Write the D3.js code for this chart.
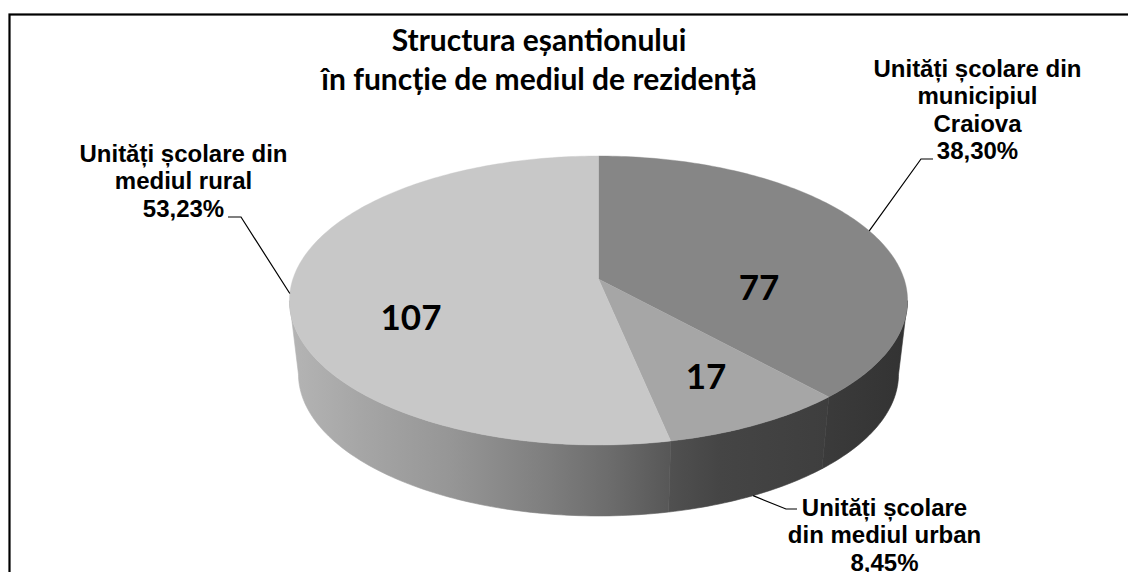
<!DOCTYPE html>
<html><head><meta charset="utf-8">
<style>html,body{margin:0;padding:0;background:#fff;overflow:hidden}svg{display:block}</style>
<script src="https://cdn.jsdelivr.net/npm/d3@7"></script></head><body>
<svg id="c" width="1128" height="572"></svg>
<script>
const categories = ["Craiova","Urban","Rural"];
const counts = [77,17,107];
const countLabels = ["77","17","107"];
const percentLabels = ["38,30%","8,45%","53,23%"];
const titleLines = ["Structura eșantionului","în funcție de mediul de rezidență"];
const labelLines = [
  ["Unități școlare din","municipiul","Craiova","38,30%"],
  ["Unități școlare","din mediul urban","8,45%"],
  ["Unități școlare din","mediul rural","53,23%"]
];
const topColors = ["#868686","#a6a6a6","#c8c8c8"];

const svg = d3.select("#c");
const W=1128,H=572;
svg.append("rect").attr("width",W).attr("height",H).attr("fill","#fff");
svg.append("rect").attr("x",9.5).attr("y",14.5).attr("width",1200).attr("height",620)
  .attr("fill","#fff").attr("stroke","#000").attr("stroke-width",2.2);

// perspective discs: k = foreshortening, a/b = vertical/horizontal radius at apex
const topDisc = {x0:598.5,y0:279,a:141.3,b:305.6,k:0.1488};
const botDisc = {x0:598.5,y0:352.9,a:138.8,b:296.7,k:0.1488};
const project=(d,t)=>{const u=Math.sin(t),v=-Math.cos(t),w=1-d.k*v;return [d.x0+d.b*u/w,d.y0+d.a*v/w];};
const arcs=d3.pie().sort(null)(counts);
const deg=Math.PI/180;
const samples=(a,b)=>d3.range(0,Math.max(2,Math.ceil((b-a)/deg))+1).map((i,_,r)=>a+(b-a)*i/(r.length-1));
const line=d3.line();

const defs=svg.append("defs");
const sideStops=[
  [[822,"#3b3b3b"],[905,"#333333"]],
  [[670,"#505050"],[720,"#454545"],[828,"#3e3e3e"]],
  [[292,"#b4b4b4"],[360,"#a6a6a6"],[450,"#969696"],[540,"#808080"],[610,"#6c6c6c"],[670,"#575757"]]
];
sideStops.forEach((st,i)=>{
  const g=defs.append("linearGradient").attr("id","side"+i).attr("gradientUnits","userSpaceOnUse")
    .attr("x1",st[0][0]).attr("x2",st[st.length-1][0]).attr("y1",0).attr("y2",0);
  st.forEach(s=>g.append("stop").attr("offset",(s[0]-st[0][0])/(st[st.length-1][0]-st[0][0])).attr("stop-color",s[1]));
});

// side walls: front part between the two silhouette tangents
const frontA=98.6*deg, frontB=261.4*deg;
arcs.forEach((d,i)=>{
  const a=Math.max(d.startAngle,frontA), b=Math.min(d.endAngle,frontB);
  if(b<=a) return;
  const ts=samples(a,b);
  const pts=ts.map(t=>project(topDisc,t)).concat(ts.slice().reverse().map(t=>project(botDisc,t)));
  svg.append("path").attr("d",line(pts)+"Z").attr("fill",`url(#side${i})`).attr("stroke",`url(#side${i})`).attr("stroke-width",0.6);
});
// top faces
arcs.forEach((d,i)=>{
  const pts=[[topDisc.x0,topDisc.y0]].concat(samples(d.startAngle,d.endAngle).map(t=>project(topDisc,t)));
  svg.append("path").attr("d",line(pts)+"Z").attr("fill",topColors[i]).attr("stroke",topColors[i]).attr("stroke-width",0.4);
});

// title
const T=svg.append("g").attr("font-family","Lato, sans-serif").attr("font-weight",700).attr("font-size",30).attr("text-anchor","middle").attr("fill","#000");
titleLines.forEach((s,i)=>T.append("text").attr("x",539).attr("y",i?89.5:51).text(s));

// counts on the top face
const countPos=[[759,300],[706,389],[411,330]];
countLabels.forEach((s,i)=>svg.append("text").attr("x",countPos[i][0]).attr("y",countPos[i][1])
  .attr("text-anchor","middle").attr("font-family","Lato, sans-serif").attr("font-weight",700).attr("font-size",35).attr("fill","#000").text(s));

// outside labels
const labelPos=[[977.5,77],[884.5,516],[183.5,162]];
labelLines.forEach((ls,i)=>{
  const g=svg.append("g").attr("font-family","'Liberation Sans', Arial, sans-serif").attr("font-weight",700)
    .attr("font-size",24).attr("text-anchor","middle").attr("fill","#000");
  ls.forEach((s,j)=>g.append("text").attr("x",labelPos[i][0]).attr("y",labelPos[i][1]+j*27.4).text(s));
});

// leader lines: anchored at each slice's mid-angle
const elbows=[[[933,159],[921,159]],[[797,509],[786,509]],[[228,217],[241,217]]];
arcs.forEach((d,i)=>{
  const mid=(d.startAngle+d.endAngle)/2;
  const end=project(i===1?botDisc:topDisc,mid);
  svg.append("path").attr("d",line(elbows[i].concat([end]))).attr("fill","none").attr("stroke","#000").attr("stroke-width",1.2);
});
</script></body></html>
